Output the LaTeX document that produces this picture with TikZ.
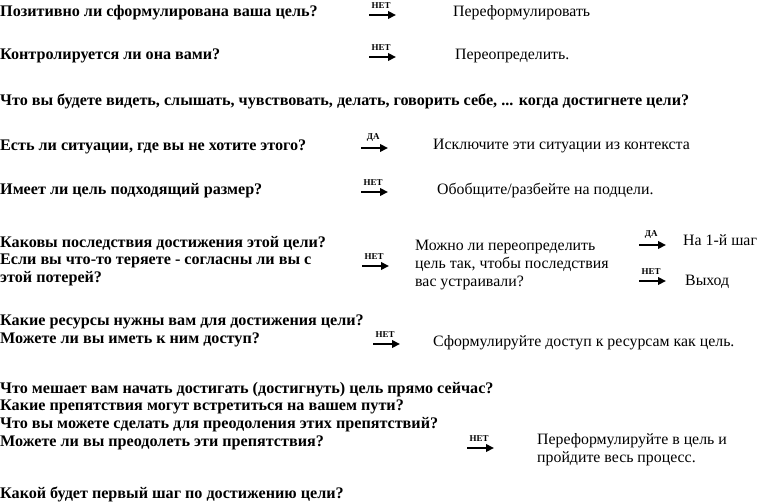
\documentclass[tikz,border=0pt]{standalone}
\usepackage{fontspec}
\setmainfont{Liberation Serif}
\usetikzlibrary{arrows.meta}
\tikzset{
  q/.style={anchor=base west, inner sep=0pt, font=\fontsize{16.2}{17.7}\selectfont\bfseries, align=left},
  ans/.style={anchor=base west, inner sep=0pt, font=\fontsize{15.9}{18.5}\selectfont, align=left},
  yn/.style={-{Triangle[length=8bp,width=7.5bp]}, line width=2.8bp},
  lab/.style={inner sep=0pt, anchor=base, font=\fontsize{9}{10}\selectfont\bfseries},
}
\begin{document}
\begin{tikzpicture}[x=1bp,y=-1bp]
\useasboundingbox (0,0) rectangle (758,502);
% row 1
\node[q] (q1) at (0,17) {Позитивно ли сформулирована ваша цель?};
\coordinate (a1s) at (369,15); \coordinate (a1e) at (396,15);
\draw[yn] (a1s) -- (a1e) node[lab, pos=0.45, above=5bp] {НЕТ};
\node[ans] (r1) at (453,17) {Переформулировать};
% row 2
\node[q] (q2) at (0,60) {Контролируется ли она вами?};
\coordinate (a2s) at (369,57); \coordinate (a2e) at (396,57);
\draw[yn] (a2s) -- (a2e) node[lab, pos=0.45, above=5bp] {НЕТ};
\node[ans] (r2) at (455,60) {Переопределить.};
% row 3
\node[q] (q3) at (0,106) {Что вы будете видеть, слышать, чувствовать, делать, говорить себе, ... когда достигнете цели?};
% row 4
\node[q] (q4) at (0,151) {Есть ли ситуации, где вы не хотите этого?};
\coordinate (a4s) at (361,148); \coordinate (a4e) at (388,148);
\draw[yn] (a4s) -- (a4e) node[lab, pos=0.45, above=5bp] {ДА};
\node[ans] (r4) at (433,150) {Исключите эти ситуации из контекста};
% row 5
\node[q] (q5) at (0,195) {Имеет ли цель подходящий размер?};
\coordinate (a5s) at (361,192); \coordinate (a5e) at (388,192);
\draw[yn] (a5s) -- (a5e) node[lab, pos=0.45, above=5bp] {НЕТ};
\node[ans] (r5) at (437,195) {Обобщите/разбейте на подцели.};
% row 6
\node[q] (q6) at (0,282.5) {Каковы последствия достижения этой цели?\\Если вы что-то теряете - согласны ли вы с\\этой потерей?};
\coordinate (a6s) at (362,266); \coordinate (a6e) at (389,266);
\draw[yn] (a6s) -- (a6e) node[lab, pos=0.45, above=5bp] {НЕТ};
\node[ans] (r6) at (415,287) {Можно ли переопределить\\цель так, чтобы последствия\\вас устраивали?};
\coordinate (a7s) at (639,245); \coordinate (a7e) at (666,245);
\draw[yn] (a7s) -- (a7e) node[lab, pos=0.45, above=5bp] {ДА};
\node[ans] (r7) at (683,246) {На 1-й шаг};
\coordinate (a8s) at (639,281); \coordinate (a8e) at (666,281);
\draw[yn] (a8s) -- (a8e) node[lab, pos=0.45, above=5bp] {НЕТ};
\node[ans] (r8) at (685,286) {Выход};
% row 7
\node[q] (q7) at (0,343.5) {Какие ресурсы нужны вам для достижения цели?\\Можете ли вы иметь к ним доступ?};
\coordinate (a9s) at (373,344); \coordinate (a9e) at (400,344);
\draw[yn] (a9s) -- (a9e) node[lab, pos=0.45, above=5bp] {НЕТ};
\node[ans] (r9) at (433,346) {Сформулируйте доступ к ресурсам как цель.};
% row 8
\node[q] (q8) at (0,446) {Что мешает вам начать достигать (достигнуть) цель прямо сейчас?\\Какие препятствия могут встретиться на вашем пути?\\Что вы можете сделать для преодоления этих препятствий?\\Можете ли вы преодолеть эти препятствия?};
\coordinate (a10s) at (467,448); \coordinate (a10e) at (494,448);
\draw[yn] (a10s) -- (a10e) node[lab, pos=0.45, above=5bp] {НЕТ};
\node[ans] (r10) at (537,462.5) {Переформулируйте в цель и\\пройдите весь процесс.};
% row 9
\node[q] (q9) at (0,498) {Какой будет первый шаг по достижению цели?};
\end{tikzpicture}
\end{document}
